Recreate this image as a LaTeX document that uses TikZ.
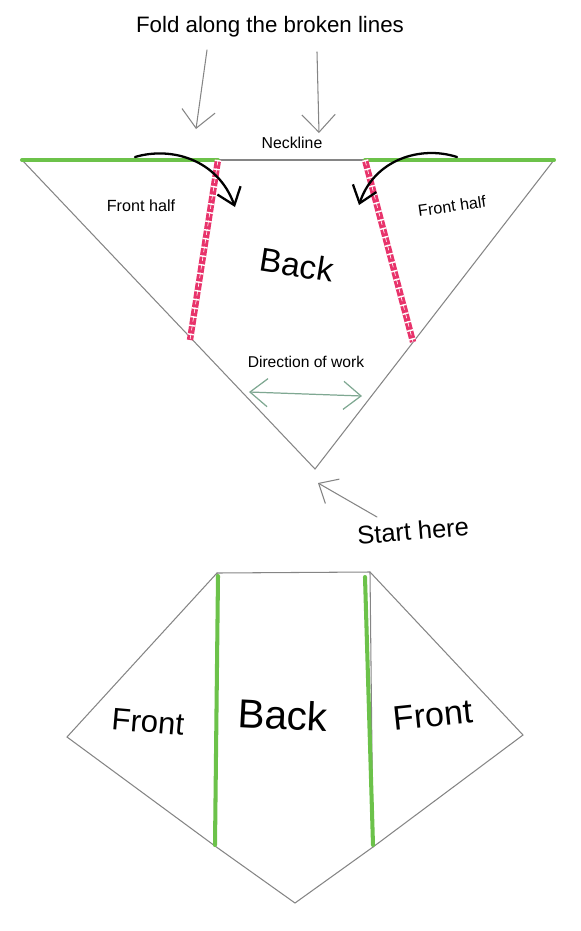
\documentclass[tikz,border=0pt]{standalone}
\usepackage{fontspec}
\setmainfont{Liberation Sans}
\usetikzlibrary{arrows.meta}

\definecolor{pencil}{HTML}{858585}
\definecolor{seam}{HTML}{6CC24A}
\definecolor{fold}{HTML}{E8336B}
\definecolor{workgreen}{HTML}{7FA892}

\tikzset{
  outline/.style={draw=pencil, line width=0.6pt},
  seamline/.style={draw=seam, line width=2.3pt},
  foldline/.style={draw=fold, line width=3.6pt, line cap=butt},
  foldgaps/.style={draw=white, line width=3.7pt, line cap=butt, dash pattern=on 0.8pt off 4.2pt},
  pointer/.style={draw=pencil, line width=0.6pt, -{Straight Barb[length=10pt,width=19pt]}},
  turnarrow/.style={draw=black, line width=1.3pt, -{Straight Barb[length=9pt,width=14pt]}},
  label/.style={inner sep=0pt, text=black}
}

\begin{document}
\begin{tikzpicture}[x=0.02cm, y=-0.02cm, line cap=round]
  \useasboundingbox (0,0) rectangle (581,931);
  % top: opened triangle
  \coordinate (L) at (22,160);
  \coordinate (R) at (554,160);
  \coordinate (O) at (315,469);
  \coordinate (NL) at (218,160);
  \coordinate (NR) at (365,160);
  \coordinate (FL) at (190,340);
  \coordinate (FR) at (413,342);
  \draw[outline] (L)--(O)--(R);
  \draw[outline] (NL)--(NR);
  \draw[seamline] (L)--(NL);
  \draw[seamline] (NR)--(R);
  \foreach \a/\b in {NL/FL, NR/FR}{
    \draw[foldline] (\a)--(\b);
    \draw[foldgaps] (\a)--(\b);
    \draw[white, line width=0.35pt, dash pattern=on 3pt off 2pt] (\a)--(\b);
  }
  \coordinate (TL1) at (135,157);
  \coordinate (TL2) at (235,207);
  \coordinate (TR1) at (457,157);
  \coordinate (TR2) at (359,205);
  \draw[turnarrow] (TL1) .. controls (172,146) and (218,160) .. (TL2);
  \draw[turnarrow] (TR1) .. controls (420,145) and (374,160) .. (TR2);
  \node[label, font=\fontsize{12.7}{15}\selectfont] (title) at (270,27) {Fold along the broken lines};
  \coordinate (P1) at (207,50);
  \coordinate (Q1) at (196,129);
  \coordinate (P2) at (317,52);
  \coordinate (Q2) at (319,133);
  \draw[pointer] (P1)--(Q1);
  \draw[pointer] (P2)--(Q2);
  \node[label, font=\fontsize{9}{11}\selectfont] (neck) at (292,143) {Neckline};
  \node[label, font=\fontsize{9.2}{11}\selectfont] (fl) at (141,206) {Front half};
  \node[label, font=\fontsize{9.2}{11}\selectfont, rotate=8] (fr) at (452,206) {Front half};
  \node[label, font=\fontsize{18.9}{22}\selectfont, rotate=-9] (back) at (297,265) {Back};
  \node[label, font=\fontsize{8.9}{11}\selectfont] (dir) at (306,362) {Direction of work};
  \coordinate (W1) at (249,392);
  \coordinate (W2) at (362,396);
  \draw[workgreen, line width=0.7pt, {Straight Barb[length=10pt,width=16pt]}-{Straight Barb[length=10pt,width=16pt]}] (W1)--(W2);
  \node[label, font=\fontsize{14.5}{17}\selectfont, rotate=5] (start) at (413,531) {Start here};
  \coordinate (S1) at (377,517);
  \coordinate (S2) at (318,483);
  \draw[draw=pencil, line width=0.6pt, -{Straight Barb[length=9pt,width=16pt]}] (S1)--(S2);
  % bottom: folded shape
  \coordinate (A) at (217,573);
  \coordinate (B) at (370,572);
  \coordinate (C) at (523,735);
  \coordinate (D) at (373,847);
  \coordinate (E) at (295,903);
  \coordinate (F) at (215,846);
  \coordinate (G) at (67,737);
  \coordinate (GA) at (218,576);
  \coordinate (GF) at (215,845);
  \coordinate (GB) at (365,577);
  \coordinate (GD) at (373,845);
  \draw[outline] (A)--(B)--(C)--(D)--(E)--(F)--(G)--cycle;
  \draw[outline] (A)--(F);
  \draw[outline] (B)--(D);
  \draw[seamline] (GA)--(GF);
  \draw[seamline] (GB)--(GD);
  \node[label, font=\fontsize{17.7}{21}\selectfont, rotate=-5] (frontl) at (148,722) {Front};
  \node[label, font=\fontsize{23}{27}\selectfont, rotate=-3] (backb) at (283,715) {Back};
  \node[label, font=\fontsize{19.4}{23}\selectfont, rotate=6] (frontr) at (433,715) {Front};
\end{tikzpicture}
\end{document}
